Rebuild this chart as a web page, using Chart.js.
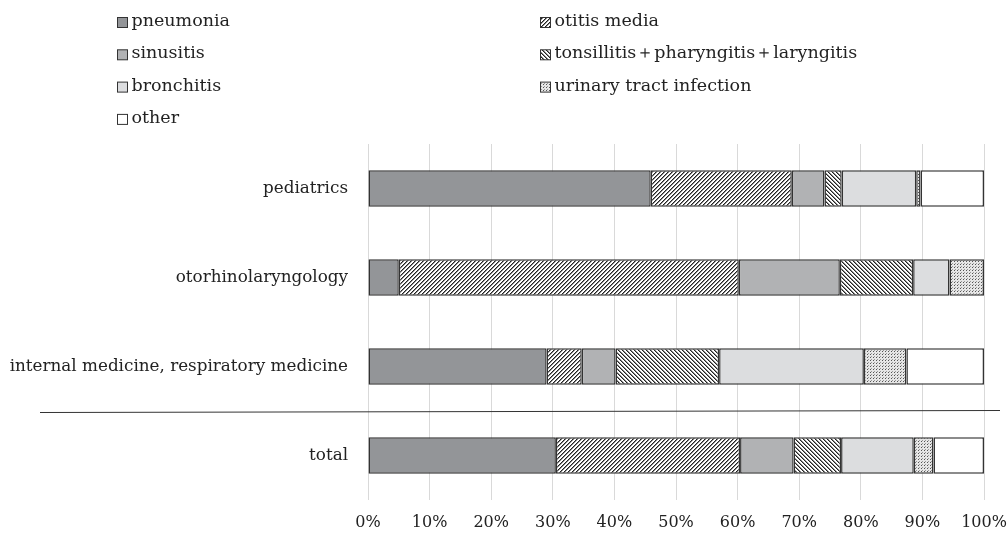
<!DOCTYPE html>
<html>
<head>
<meta charset="utf-8">
<script src="https://cdn.jsdelivr.net/npm/chart.js@4/dist/chart.umd.min.js"></script>
<style>
  html, body { margin: 0; padding: 0; background: #fff; }
  #wrap { width: 1008px; height: 535px; }
</style>
</head>
<body>
<div id="wrap"><canvas id="chart"></canvas></div>
<script>
const categories = ['pediatrics', 'otorhinolaryngology', 'internal medicine, respiratory medicine', 'total']
const seriesNames = ['pneumonia', 'otitis media', 'sinusitis', 'tonsillitis＋pharyngitis＋laryngitis', 'bronchitis', 'urinary tract infection', 'other']
const pneumonia = [45.9, 5.0, 29.0, 30.5]
const otitisMedia = [22.9, 55.2, 5.7, 29.9]
const sinusitis = [5.3, 16.4, 5.5, 8.7]
const tonsillitis = [2.8, 11.9, 16.8, 7.7]
const bronchitis = [12.1, 5.9, 23.5, 11.8]
const urinaryTract = [0.7, 5.6, 6.9, 3.2]
const other = [10.3, 0, 12.6, 8.2]
const tickLabels = ['0%', '10%', '20%', '30%', '40%', '50%', '60%', '70%', '80%', '90%', '100%']

const FONT = '"DejaVu Serif", "Liberation Serif", serif'

// small pixel tiles for the hatched fills
function tile(size, bg, paint) {
  const c = document.createElement('canvas')
  c.width = size
  c.height = size
  const g = c.getContext('2d')
  g.fillStyle = bg
  g.fillRect(0, 0, size, size)
  for (let y = 0; y < size; y++) {
    for (let x = 0; x < size; x++) {
      const col = paint(x, y)
      if (col) {
        g.fillStyle = col
        g.fillRect(x, y, 1, 1)
      }
    }
  }
  return g.createPattern(c, 'repeat')
}

const forward = tile(4, '#fff', (x, y) => {
  const k = (x + y) % 4
  return k === 3 ? '#222' : k === 0 ? '#888' : null
})
const backward = tile(4, '#fff', (x, y) => {
  const k = (x - y + 8) % 4
  return k === 0 ? '#222' : k === 1 ? '#888' : null
})
const dots = tile(3, '#e6e6e6', (x, y) => (x === 0 && y === 0 ? '#555' : (x === 1 && y === 2 ? '#999' : null)))

const fills = ['#939598', forward, '#b1b2b4', backward, '#dcdddf', dots, '#ffffff']
const values = [pneumonia, otitisMedia, sinusitis, tonsillitis, bronchitis, urinaryTract, other]

const datasets = seriesNames.map((name, i) => ({
  label: name,
  data: values[i],
  backgroundColor: fills[i],
  borderColor: '#333',
  borderWidth: 1.5,
  borderSkipped: false,
  barPercentage: 0.41,
  categoryPercentage: 1
}))

const legendAndRule = {
  id: 'legendAndRule',
  afterDraw(chart) {
    const ctx = chart.ctx
    const y = chart.scales.y
    ctx.save()
    // separator above "total"
    const mid = (y.getPixelForValue(2) + y.getPixelForValue(3)) / 2
    ctx.strokeStyle = '#333'
    ctx.lineWidth = 1
    ctx.beginPath()
    ctx.moveTo(40, mid + 1.5)
    ctx.lineTo(1000, mid - 0.5)
    ctx.stroke()

    // legend, two columns
    ctx.font = '17.5px ' + FONT
    ctx.textBaseline = 'middle'
    chart.data.datasets.forEach((ds, i) => {
      const col = i % 2
      const row = Math.floor(i / 2)
      const bx = col === 0 ? 117.5 : 540.5
      const by = 17.5 + row * 32.3
      ctx.fillStyle = ds.backgroundColor
      ctx.fillRect(bx, by, 10, 10)
      ctx.strokeStyle = '#333'
      ctx.lineWidth = 1
      ctx.strokeRect(bx, by, 10, 10)
      ctx.fillStyle = '#222'
      ctx.fillText(ds.label, bx + 14, by + 4)
    })
    ctx.restore()
  }
}

new Chart(document.getElementById('chart'), {
  type: 'bar',
  data: { labels: categories, datasets: datasets },
  options: {
    indexAxis: 'y',
    responsive: true,
    maintainAspectRatio: false,
    animation: false,
    layout: { padding: { top: 144, right: 24, left: 0, bottom: 0 } },
    scales: {
      x: {
        stacked: true,
        min: 0,
        max: 100,
        ticks: {
          stepSize: 10,
          padding: 13,
          color: '#222',
          font: { family: FONT, size: 16 },
          callback: (v, i) => tickLabels[i]
        },
        grid: { color: '#d9d9d9', drawTicks: false },
        border: { display: false },
        afterFit: (s) => {
          s.height = 35
          s.paddingLeft = 0
          s.paddingRight = 0
        }
      },
      y: {
        stacked: true,
        ticks: {
          padding: 20,
          color: '#222',
          font: { family: FONT, size: 16.8 }
        },
        grid: { display: false, drawTicks: false },
        border: { display: false },
        afterFit: (s) => { s.width = 368 }
      }
    },
    plugins: {
      legend: { display: false },
      tooltip: { enabled: false }
    }
  },
  plugins: [legendAndRule]
})
</script>
</body>
</html>
